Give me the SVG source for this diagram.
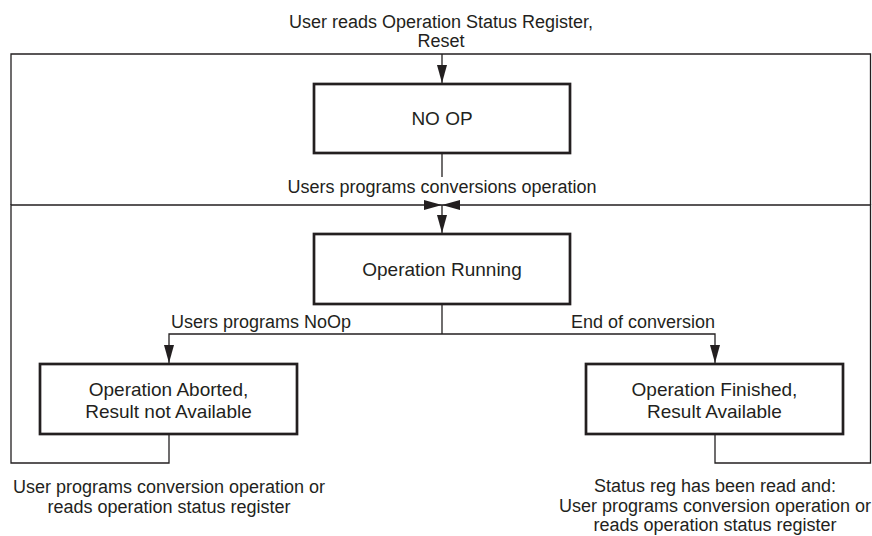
<svg xmlns="http://www.w3.org/2000/svg" width="872" height="536" viewBox="0 0 872 536">
<style>
.box{fill:#ffffff;stroke:#231f20;stroke-width:2.7}
.ln{fill:none;stroke:#231f20;stroke-width:1.3}
.bt{font-family:"Liberation Sans",Arial,sans-serif;font-size:19px;fill:#231f20;text-anchor:middle}
.lb{font-family:"Liberation Sans",Arial,sans-serif;font-size:18px;fill:#231f20;text-anchor:middle}
</style>
<defs>
<marker id="ah" markerUnits="userSpaceOnUse" markerWidth="18" markerHeight="10" refX="18" refY="5" orient="auto">
<path d="M0,0 L18,5 L0,10 z" fill="#231f20"/>
</marker>
</defs>
<rect width="872" height="536" fill="#ffffff"/>
<g id="connectors">
<path class="ln" d="M11,205 V54 H870.5 V205"/>
<path class="ln" d="M442,54 V83" marker-end="url(#ah)"/>
<path class="ln" d="M442,153 V177"/>
<path class="ln" d="M169,435 V463 H11 V205 H442" marker-end="url(#ah)"/>
<path class="ln" d="M715,435 V463 H870.5 V205 H442" marker-end="url(#ah)"/>
<path class="ln" d="M442,205 V233" marker-end="url(#ah)"/>
<path class="ln" d="M442,305 V334"/>
<path class="ln" d="M442,334 H169 V363" marker-end="url(#ah)"/>
<path class="ln" d="M442,334 H715 V363" marker-end="url(#ah)"/>
</g>
<g id="labels">
<text class="lb" x="441" y="28">User reads Operation Status Register,</text>
<text class="lb" x="441" y="47">Reset</text>
<text class="lb" x="442" y="193">Users programs conversions operation</text>
<text class="lb" x="171" y="328" style="text-anchor:start">Users programs NoOp</text>
<text class="lb" x="715" y="328" style="text-anchor:end">End of conversion</text>
<text class="lb" x="169" y="493">User programs conversion operation or</text>
<text class="lb" x="169" y="513">reads operation status register</text>
<text class="lb" x="715" y="492">Status reg has been read and:</text>
<text class="lb" x="715" y="512">User programs conversion operation or</text>
<text class="lb" x="715" y="531">reads operation status register</text>
</g>
<g id="noop">
<rect class="box" x="314" y="84" width="256" height="69"/>
<text class="bt" x="442" y="125">NO OP</text>
</g>
<g id="running">
<rect class="box" x="314" y="234" width="256" height="70"/>
<text class="bt" x="442" y="276">Operation Running</text>
</g>
<g id="aborted">
<rect class="box" x="40" y="364" width="257" height="70"/>
<text class="bt" x="168.5" y="396">Operation Aborted,</text>
<text class="bt" x="168.5" y="418">Result not Available</text>
</g>
<g id="finished">
<rect class="box" x="586" y="364" width="257" height="70"/>
<text class="bt" x="714.5" y="396">Operation Finished,</text>
<text class="bt" x="714.5" y="418">Result Available</text>
</g>
</svg>
